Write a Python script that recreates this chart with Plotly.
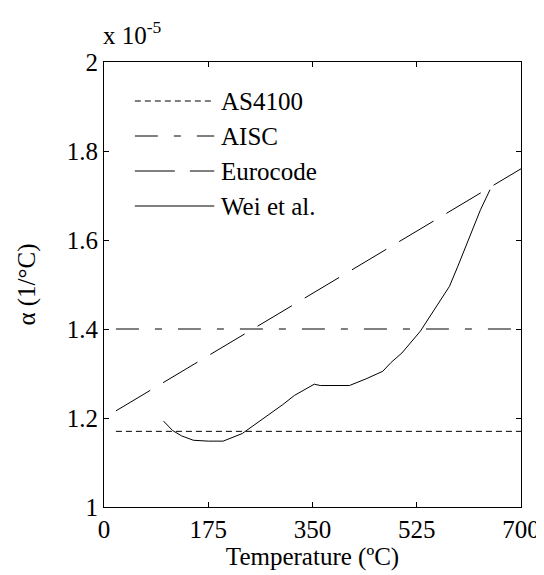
import plotly.graph_objects as go

# Temperatures (°C) and thermal expansion coefficients (x 1e-5 1/°C)
code_T = [20, 700]
as4100_alpha = [1.17, 1.17]
aisc_alpha = [1.40, 1.40]

euro_T = [20, 100, 200, 300, 400, 500, 600, 700]
euro_alpha = [1.216, 1.28, 1.36, 1.44, 1.52, 1.60, 1.68, 1.76]

wei_T = [100, 115, 130, 150, 175, 200, 232, 250, 275, 300, 320, 353, 363,
         412, 440, 468, 482, 500, 531, 550, 580, 594, 616, 632, 648]
wei_alpha = [1.193, 1.172, 1.160, 1.150, 1.148, 1.148, 1.165, 1.182, 1.207,
             1.230, 1.251, 1.276, 1.273, 1.273, 1.288, 1.305, 1.325, 1.346,
             1.395, 1.435, 1.496, 1.541, 1.612, 1.668, 1.713]

series_names = ["AS4100", "AISC", "Eurocode", "Wei et al."]
series_dash = ["6px,4px", "23px,16px,7px,16px", "40px,15px", "solid"]

x_ticks = [0, 175, 350, 525, 700]
y_ticks = [1.0, 1.2, 1.4, 1.6, 1.8, 2.0]
y_ticklabels = ["1", "1.2", "1.4", "1.6", "1.8", "2"]

FONT = "Liberation Serif"
FS = 25

fig = go.Figure()
data = [(code_T, as4100_alpha), (code_T, aisc_alpha), (euro_T, euro_alpha), (wei_T, wei_alpha)]
for (xs, ys), name, dash in zip(data, series_names, series_dash):
    fig.add_trace(go.Scatter(x=xs, y=ys, mode="lines", name=name,
                             line=dict(color="black", width=1, dash=dash),
                             showlegend=False))

# manual legend (line samples + labels) in paper coordinates
for i, (name, dash) in enumerate(zip(series_names, series_dash)):
    ypix = 93 + 35 * i
    yp = 1 - (ypix - 54) / 445
    x0 = (127 - 95.5) / 425.5
    x1 = (208 - 95.5) / 425.5
    fig.add_shape(type="line", xref="paper", yref="paper", x0=x0, x1=x1, y0=yp, y1=yp,
                  line=dict(color="black", width=1, dash=dash))
    fig.add_annotation(xref="paper", yref="paper", x=(213 - 95.5) / 425.5, y=yp,
                       text=name, showarrow=False, xanchor="left", yanchor="middle",
                       font=dict(family=FONT, size=FS, color="black"))

fig.add_annotation(xref="paper", yref="paper", x=0.0, y=1.0, yshift=11, xshift=-3,
                   text="x 10<sup>-5</sup>", showarrow=False, xanchor="left", yanchor="bottom",
                   font=dict(family=FONT, size=FS, color="black"))

axis_common = dict(showgrid=False, zeroline=False, showline=True, linecolor="black",
                   linewidth=1, mirror="ticks", ticks="inside", ticklen=5,
                   tickcolor="black", tickwidth=1,
                   tickfont=dict(family=FONT, size=FS, color="black"))

fig.update_xaxes(range=[0, 700], tickvals=x_ticks, ticktext=[str(v) for v in x_ticks],
                 title=dict(text="Temperature (ºC)", font=dict(family=FONT, size=FS, color="black"),
                            standoff=2),
                 **axis_common)
fig.update_yaxes(range=[1.0, 2.0], tickvals=y_ticks, ticktext=y_ticklabels,
                 title=dict(text="α (1/°C)", font=dict(family=FONT, size=FS, color="black"),
                            standoff=24),
                 **axis_common)

fig.update_layout(width=544, height=575, plot_bgcolor="white", paper_bgcolor="white",
                  margin=dict(l=95.5, r=23, t=54, b=76), showlegend=False,
                  font=dict(family=FONT, size=FS, color="black"))

fig.write_html("out.html")
